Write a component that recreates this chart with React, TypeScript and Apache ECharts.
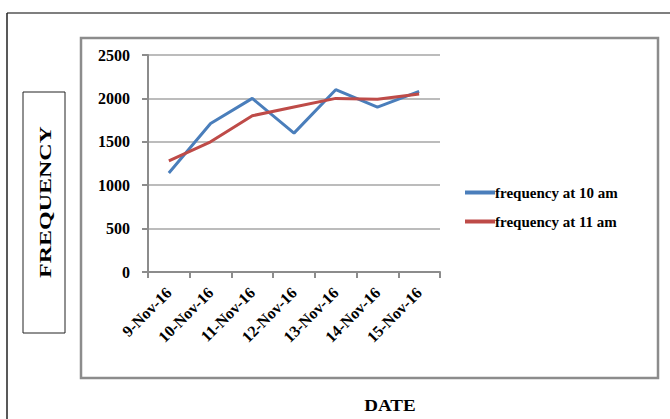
import React, { useEffect, useRef } from "react";
import * as echarts from "echarts";

const categories = ["9-Nov-16", "10-Nov-16", "11-Nov-16", "12-Nov-16", "13-Nov-16", "14-Nov-16", "15-Nov-16"];
const freq10 = [1140, 1710, 2000, 1600, 2100, 1900, 2080];
const freq11 = [1280, 1500, 1800, 1900, 2000, 1990, 2050];
const seriesNames = ["frequency at 10 am", "frequency at 11 am"];

const SERIF = "'Liberation Serif', 'DejaVu Serif', serif";

export default function App() {
  const ref = useRef<HTMLDivElement>(null);
  useEffect(() => {
    if (!ref.current) return;
    const chart = echarts.init(ref.current, undefined, { renderer: "svg" });
    chart.setOption({
      animation: false,
      backgroundColor: "#ffffff",
      grid: { left: 148, right: 230, top: 55, bottom: 147, containLabel: false },
      legend: {
        orient: "vertical",
        left: 460,
        top: 180,
        itemWidth: 30,
        itemHeight: 4,
        itemGap: 14,
        icon: "rect",
        textStyle: { fontFamily: SERIF, fontSize: 15, fontWeight: "bold", color: "#000", padding: [0, 0, 0, -5] },
        data: seriesNames,
      },
      xAxis: {
        type: "category",
        data: categories,
        boundaryGap: true,
        axisLine: { show: true, lineStyle: { color: "#8c8c8c", width: 2 } },
        axisTick: { show: true, length: 6, alignWithLabel: false, lineStyle: { color: "#8c8c8c", width: 2 } },
        axisLabel: {
          rotate: 45,
          interval: 0,
          margin: 18,
          fontFamily: SERIF,
          fontSize: 16,
          fontWeight: "bold",
          color: "#000",
        },
        splitLine: { show: false },
      },
      yAxis: {
        type: "value",
        min: 0,
        max: 2500,
        interval: 500,
        axisLine: { show: true, lineStyle: { color: "#8c8c8c", width: 2 } },
        axisTick: { show: true, inside: false, length: 6, lineStyle: { color: "#8c8c8c", width: 2 } },
        axisLabel: {
          margin: 18,
          fontFamily: SERIF,
          fontSize: 16,
          fontWeight: "bold",
          color: "#000",
          formatter: (v: number) => String(v),
        },
        splitLine: { show: true, lineStyle: { color: "#a6a6a6", width: 1.5 } },
      },
      series: [
        {
          name: seriesNames[0],
          type: "line",
          data: freq10,
          showSymbol: false,
          symbol: "none",
          lineStyle: { color: "#4a7ebb", width: 3 },
          itemStyle: { color: "#4a7ebb" },
        },
        {
          name: seriesNames[1],
          type: "line",
          data: freq11,
          showSymbol: false,
          symbol: "none",
          lineStyle: { color: "#be4b48", width: 3 },
          itemStyle: { color: "#be4b48" },
        },
      ],
      graphic: [
        { type: "line", shape: { x1: 7, y1: 13, x2: 670, y2: 13 }, style: { stroke: "#555", lineWidth: 1.5 } },
        { type: "line", shape: { x1: 7, y1: 13, x2: 7, y2: 419 }, style: { stroke: "#222", lineWidth: 1.5 } },
        { type: "rect", shape: { x: 81, y: 38, width: 577, height: 340 }, style: { fill: "none", stroke: "#8c8c8c", lineWidth: 2.5 } },
        { type: "rect", shape: { x: 23, y: 92, width: 42, height: 241 }, style: { fill: "#fff", stroke: "#222", lineWidth: 1 } },
        {
          type: "text",
          x: 46,
          y: 202,
          rotation: Math.PI / 2,
          scaleX: 1.5,
          style: {
            text: "FREQUENCY",
            fontFamily: SERIF,
            fontSize: 16,
            fontWeight: "bold",
            fill: "#000",
            align: "center",
            verticalAlign: "middle",
          },
        },
        {
          type: "text",
          x: 390,
          y: 405,
          scaleX: 1.12,
          style: {
            text: "DATE",
            fontFamily: SERIF,
            fontSize: 17,
            fontWeight: "bold",
            fill: "#000",
            align: "center",
            verticalAlign: "middle",
          },
        },
      ],
    });
    return () => chart.dispose();
  }, []);
  return <div ref={ref} style={{ position: "fixed", left: 0, top: 0, width: 670, height: 419 }} />;
}
